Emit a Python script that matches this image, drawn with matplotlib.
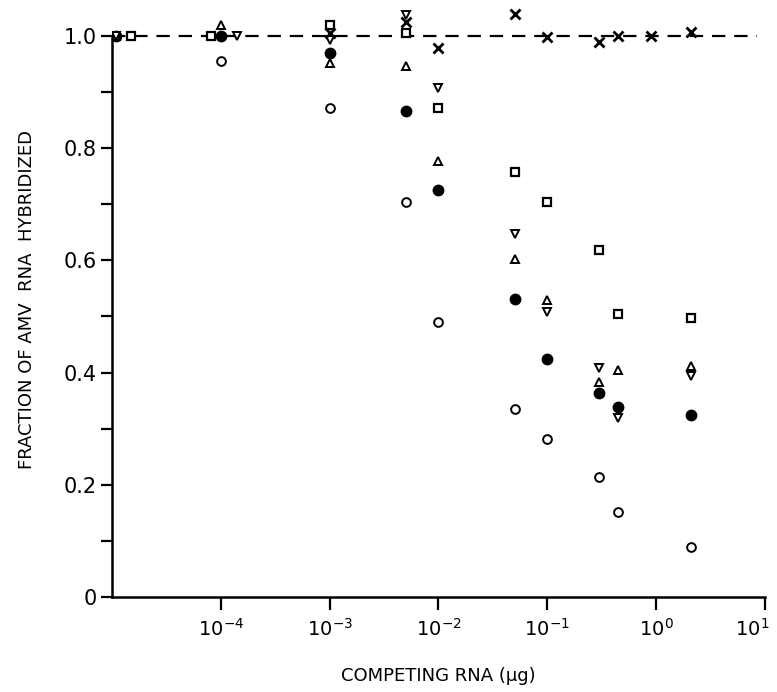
import matplotlib.pyplot as plt
import matplotlib.transforms as mtransforms
import numpy as np

# competing RNA amount (ug) and fraction hybridized, one list pair per symbol
x_open_circle = [1.1e-5, 1e-4, 1e-3, 5e-3, 1e-2, 5e-2, 1e-1, 0.3, 0.45, 2.1]
y_open_circle = [1.0, 0.955, 0.872, 0.704, 0.49, 0.335, 0.282, 0.214, 0.152, 0.089]

x_filled_circle = [1.1e-5, 1e-4, 1e-3, 5e-3, 1e-2, 5e-2, 1e-1, 0.3, 0.45, 2.1]
y_filled_circle = [1.0, 1.0, 0.97, 0.866, 0.725, 0.531, 0.424, 0.364, 0.339, 0.324]

x_up_tri = [1.1e-5, 1e-4, 1e-3, 5e-3, 1e-2, 5e-2, 1e-1, 0.3, 0.45, 2.1]
y_up_tri = [1.0, 1.02, 0.952, 0.947, 0.777, 0.602, 0.529, 0.383, 0.405, 0.412]

x_down_tri = [1.1e-5, 1.4e-4, 1e-3, 5e-3, 1e-2, 5e-2, 1e-1, 0.3, 0.45, 2.1]
y_down_tri = [1.0, 1.0, 0.993, 1.037, 0.907, 0.647, 0.508, 0.408, 0.319, 0.394]

x_square = [1.5e-5, 8.1e-5, 1e-3, 5e-3, 1e-2, 5e-2, 1e-1, 0.3, 0.45, 2.1]
y_square = [1.0, 1.0, 1.02, 1.005, 0.872, 0.758, 0.704, 0.619, 0.504, 0.497]

x_cross = [1e-3, 5e-3, 1e-2, 5e-2, 1e-1, 0.3, 0.45, 0.9, 2.1]
y_cross = [1.005, 1.025, 0.979, 1.04, 0.998, 0.989, 1.0, 1.0, 1.007]

xticks = [1e-4, 1e-3, 1e-2, 1e-1, 1e0, 1e1]
xticklabels = [r'$10^{-4}$', r'$10^{-3}$', r'$10^{-2}$', r'$10^{-1}$', r'$10^{0}$', r'$10^{1}$']
yticks = [0, 0.2, 0.4, 0.6, 0.8, 1.0]
yticklabels = ['0', '0.2', '0.4', '0.6', '0.8', '1.0']

plt.rcParams['font.family'] = ['DejaVu Sans']
plt.rcParams['mathtext.fontset'] = 'dejavusans'

fig = plt.figure(figsize=(7.77, 6.92), dpi=100)
ax = fig.add_axes([0.1441, 0.1373, 0.8405, 0.8594])

ax.set_xscale('log')
ax.set_xlim(1e-5, 1e1)
ax.set_ylim(0, 1.06)

# reference line at 1.0
ax.plot([1e-5, 8.5], [1.0, 1.0], color='black', lw=1.6, dashes=(6, 4), zorder=1)

mk = dict(linestyle='none', color='black', markersize=6.3, markeredgewidth=1.4, zorder=3)
ax.plot(x_open_circle, y_open_circle, marker='o', markerfacecolor='white', **mk)
ax.plot(x_filled_circle, y_filled_circle, marker='o', markerfacecolor='black', markersize=7.5,
        linestyle='none', color='black', zorder=3)
ax.plot(x_up_tri, y_up_tri, marker='^', markerfacecolor='white', **mk)
ax.plot(x_down_tri, y_down_tri, marker='v', markerfacecolor='white', **mk)
ax.plot(x_square, y_square, marker='s', markerfacecolor='white', markersize=5.8,
        linestyle='none', color='black', markeredgewidth=1.6, zorder=3)
ax.plot(x_cross, y_cross, marker='x', markersize=7, markeredgewidth=2.0, linestyle='none',
        color='black', zorder=3)

for side in ['top', 'right']:
    ax.spines[side].set_visible(False)
ax.spines['left'].set_linewidth(1.8)
ax.spines['bottom'].set_linewidth(1.8)
ax.spines['left'].set_bounds(0, 1.0)

ax.set_xticks(xticks)
ax.set_xticklabels(xticklabels)
ax.xaxis.set_minor_locator(plt.NullLocator())
ax.set_yticks(yticks)
ax.set_yticklabels(yticklabels)
ax.set_yticks(np.arange(0.1, 1.0, 0.2), minor=True)

ax.tick_params(axis='x', which='major', direction='out', length=9, width=1.6,
               labelsize=14, pad=6)
ax.tick_params(axis='y', which='both', direction='out', length=8, width=1.6,
               labelsize=15, pad=3)

# last x label sits at the figure edge, nudge it in a little
last = ax.get_xticklabels()[-1]
last.set_transform(last.get_transform() +
                   mtransforms.ScaledTranslation(-9 / 72, 0, fig.dpi_scale_trans))

ax.set_xlabel('COMPETING RNA (\u03bcg)', fontsize=13, labelpad=20)
ax.set_ylabel('FRACTION OF AMV  RNA  HYBRIDIZED', fontsize=13, labelpad=20)

fig.savefig('out.png', dpi=100)
